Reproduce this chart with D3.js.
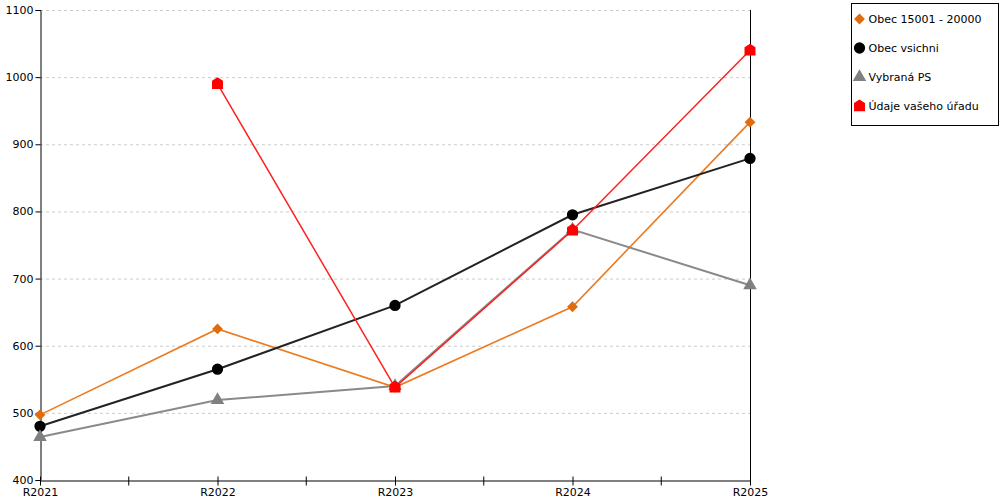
<!DOCTYPE html>
<html>
<head>
<meta charset="utf-8">
<script src="https://cdn.jsdelivr.net/npm/d3@7"></script>
<style>
  body { margin: 0; background: #fff; }
  text { font-family: "DejaVu Sans", Verdana, sans-serif; }
</style>
</head>
<body>
<div id="chart"></div>
<script>
const FRAME_WIDTH = 1000;
const FRAME_HEIGHT = 500;
const MARGINS = {left: 40, right: 250, top: 10, bottom: 20};

// data
const CATEGORIES = ["R2021", "R2022", "R2023", "R2024", "R2025"];
const Y_TICKS = [400, 500, 600, 700, 800, 900, 1000, 1100];
const SERIES_NAMES = ["Obec 15001 - 20000", "Obec vsichni", "Vybraná PS", "Údaje vašeho úřadu"];
const OBEC_15001 = [497, 625, 538, 658, 933];
const OBEC_VSICHNI = [480, 565, 660, 795, 879];
const VYBRANA_PS = [464, 519, 540, 773, 690];
const UDAJE_URADU = [null, 990, 538, 772, 1040];

// custom "house" marker
const symbolHouse = {
    draw(context, size) {
        const w = Math.sqrt(size) / 2;
        context.moveTo(0, -w * 1.2);
        context.lineTo(w, -w * 0.55);
        context.lineTo(w, w * 0.95);
        context.lineTo(-w, w * 0.95);
        context.lineTo(-w, -w * 0.55);
        context.closePath();
    }
};

const SERIES = [
    {name: SERIES_NAMES[0], values: OBEC_15001, line: "#ec7a1f", fill: "#e06c0c", symbol: d3.symbolDiamond2, size: 75, width: 1.6},
    {name: SERIES_NAMES[1], values: OBEC_VSICHNI, line: "#222222", fill: "#000000", symbol: d3.symbolCircle, size: 100, width: 2},
    {name: SERIES_NAMES[2], values: VYBRANA_PS, line: "#8a8a8a", fill: "#808080", symbol: d3.symbolTriangle, size: 80, width: 2},
    {name: SERIES_NAMES[3], values: UDAJE_URADU, line: "#ff2020", fill: "#ff0000", symbol: symbolHouse, size: 120, width: 1.5}
];

const SVG = d3.select("#chart")
    .append("svg")
        .attr("width", FRAME_WIDTH)
        .attr("height", FRAME_HEIGHT);

const X_SCALE = d3.scalePoint()
    .domain(CATEGORIES)
    .range([MARGINS.left, FRAME_WIDTH - MARGINS.right]);

const Y_SCALE = d3.scaleLinear()
    .domain([400, 1100])
    .range([FRAME_HEIGHT - MARGINS.bottom, MARGINS.top]);

const X0 = X_SCALE(CATEGORIES[0]);
const X1 = X_SCALE(CATEGORIES[CATEGORIES.length - 1]);
const Y0 = Y_SCALE(400);

// dashed grid lines
SVG.append("g")
    .selectAll("line")
    .data(Y_TICKS.slice(1))
    .enter()
    .append("line")
        .attr("x1", X0)
        .attr("x2", X1)
        .attr("y1", (d) => Y_SCALE(d) + 0.5)
        .attr("y2", (d) => Y_SCALE(d) + 0.5)
        .attr("stroke", "#cccccc")
        .attr("stroke-dasharray", "3,3");

// y axis
const yAxis = SVG.append("g")
    .attr("transform", "translate(" + (X0 + 0.5) + ",0)")
    .call(d3.axisLeft(Y_SCALE).tickValues(Y_TICKS).tickSize(5).tickFormat(d3.format("d")));
yAxis.selectAll("text").attr("font-size", "11px").attr("fill", "#000").attr("x", -7);
yAxis.select(".domain").attr("stroke", "#000");

// x axis with ticks crossing the line, including half-way ticks
const xAxis = SVG.append("g")
    .attr("transform", "translate(0," + (Y0 + 0.5) + ")")
    .call(d3.axisBottom(X_SCALE).tickSize(5).tickSizeOuter(0));
xAxis.selectAll("text").attr("font-size", "11px").attr("fill", "#000").attr("y", 8);
xAxis.selectAll(".tick line").attr("y1", -4);
const STEP = X_SCALE.step();
xAxis.selectAll(".minor")
    .data(CATEGORIES.slice(1))
    .enter()
    .append("line")
        .attr("class", "minor")
        .attr("x1", (d) => X_SCALE(d) - STEP / 2)
        .attr("x2", (d) => X_SCALE(d) - STEP / 2)
        .attr("y1", -4)
        .attr("y2", 5)
        .attr("stroke", "#000");

// right border line
SVG.append("line")
    .attr("x1", X1 + 0.5)
    .attr("x2", X1 + 0.5)
    .attr("y1", MARGINS.top)
    .attr("y2", Y0 + 5)
    .attr("stroke", "#000");

// lines and markers
const LINE = d3.line()
    .defined((d) => d !== null)
    .x((d, i) => X_SCALE(CATEGORIES[i]))
    .y((d) => Y_SCALE(d));

SERIES.forEach((s) => {
    const g = SVG.append("g");
    g.append("path")
        .datum(s.values)
        .attr("d", LINE)
        .attr("fill", "none")
        .attr("stroke", s.line)
        .attr("stroke-width", s.width);
    g.selectAll("path.mark")
        .data(s.values.map((v, i) => ({v: v, c: CATEGORIES[i]})).filter((d) => d.v !== null))
        .enter()
        .append("path")
            .attr("class", "mark")
            .attr("d", d3.symbol().type(s.symbol).size(s.size))
            .attr("transform", (d) => "translate(" + X_SCALE(d.c) + "," + Y_SCALE(d.v) + ")")
            .attr("fill", s.fill);
});

// legend
const LEGEND = SVG.append("g").attr("transform", "translate(851.5,3.5)");
LEGEND.append("rect")
    .attr("width", 147)
    .attr("height", 122)
    .attr("fill", "#fff")
    .attr("stroke", "#000");
const items = LEGEND.selectAll("g.item")
    .data(SERIES)
    .enter()
    .append("g")
        .attr("class", "item")
        .attr("transform", (d, i) => "translate(0," + (15.5 + i * 29) + ")");
items.append("path")
    .attr("d", (d) => d3.symbol().type(d.symbol).size(d.size)())
    .attr("transform", "translate(8,0)")
    .attr("fill", (d) => d.fill);
items.append("text")
    .attr("x", 17)
    .attr("dy", "0.35em")
    .attr("font-size", "11px")
    .text((d) => d.name);
</script>
</body>
</html>
